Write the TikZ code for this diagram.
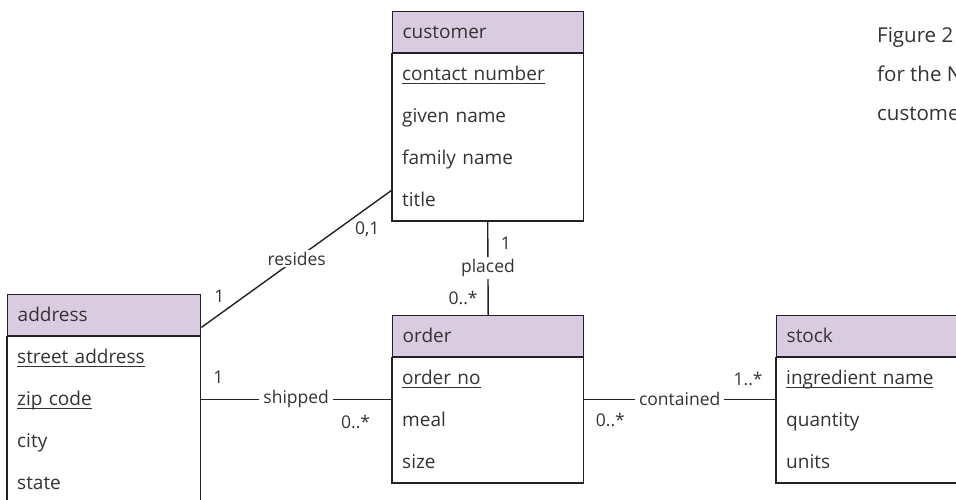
\documentclass[tikz,border=0pt]{standalone}
\usepackage{fontspec}
\setmainfont{Open Sans}
\usetikzlibrary{calc}
\definecolor{hdrfill}{RGB}{217,204,225}
\definecolor{ink}{RGB}{51,51,51}
\definecolor{edge}{RGB}{34,34,34}
% underlined key attribute, rule at a fixed depth
\newcommand\pkey[1]{\setbox0=\hbox{#1}\rlap{\rule[-3.5pt]{\wd0}{1.2pt}}\box0}
\begin{document}
\begin{tikzpicture}[x=1pt,y=-1pt,
  attrfont/.style={font=\fontsize{19}{22}\selectfont},
  relfont/.style={font=\fontsize{17.5}{20}\selectfont},
  rowbox/.style={attrfont, text=ink, minimum width=191pt, minimum height=41.5pt,
    inner xsep=10pt, inner ysep=0pt, text width=171pt, align=left,
    text height=15pt, text depth=2pt, anchor=north west},
  hdr/.style={rowbox, minimum height=41pt, draw=edge, line width=1.4pt, fill=hdrfill},
  bodyline/.style={draw=edge, line width=1.4pt},
  rel/.style={draw=edge, line width=1.4pt},
  lbl/.style={relfont, fill=white, inner xsep=4pt, inner ysep=2pt, text=ink},
  mult/.style={relfont, inner sep=0pt, text=ink},
  note/.style={font=\fontsize{20.5}{24}\selectfont, anchor=base west, inner sep=0pt, text=ink}]
\useasboundingbox (0,0) rectangle (956,500);
\clip (0,0) rectangle (956,500);

% customer
\node[hdr] (cust) at (392,11) {customer};
\node[rowbox] (cust1) at (cust.south west) {\pkey{contact number}};
\node[rowbox] (cust2) at (cust1.south west) {given name};
\node[rowbox] (cust3) at (cust2.south west) {family name};
\node[rowbox] (cust4) at (cust3.south west) {title};
\draw[bodyline] (cust1.north west) rectangle (cust4.south east);

% address
\node[hdr, minimum width=193pt, text width=173pt] (addr) at (7,294) {address};
\node[rowbox, minimum width=193pt, text width=173pt] (addr1) at (addr.south west) {\pkey{street address}};
\node[rowbox, minimum width=193pt, text width=173pt] (addr2) at (addr1.south west) {\pkey{zip code}};
\node[rowbox, minimum width=193pt, text width=173pt] (addr3) at (addr2.south west) {city};
\node[rowbox, minimum width=193pt, text width=173pt] (addr4) at (addr3.south west) {state};
\draw[bodyline] (addr1.north west) rectangle (addr4.south east);

% order
\node[hdr] (ord) at (392,315) {order};
\node[rowbox] (ord1) at (ord.south west) {\pkey{order no}};
\node[rowbox] (ord2) at (ord1.south west) {meal};
\node[rowbox] (ord3) at (ord2.south west) {size};
\draw[bodyline] (ord1.north west) rectangle (ord3.south east);

% stock
\node[hdr] (stk) at (776,315) {stock};
\node[rowbox] (stk1) at (stk.south west) {\pkey{ingredient name}};
\node[rowbox] (stk2) at (stk1.south west) {quantity};
\node[rowbox] (stk3) at (stk2.south west) {units};
\draw[bodyline] (stk1.north west) rectangle (stk3.south east);

% relationships
\draw[rel] ([yshift=9pt]addr.south east) --
  node[lbl, midway] {resides}
  node[mult, pos=0.094, yshift=18pt] {1}
  node[mult, pos=0.87, yshift=-21pt] {0,1}
  ([yshift=10pt]cust4.west);

\draw[rel] (addr2.east) --
  node[lbl, midway] {shipped}
  node[mult, pos=0.094, yshift=22pt] {1}
  node[mult, pos=0.81, yshift=-23pt] {0..*}
  (addr2.east -| ord1.west);

\draw[rel] (cust4.south) --
  node[lbl, midway] {placed}
  node[mult, pos=0.237, xshift=18pt] {1}
  node[mult, pos=0.814, xshift=-25pt] {0..*}
  (ord.north);

\draw[rel] (ord1.south east) --
  node[lbl, midway] {contained}
  node[mult, pos=0.855, yshift=20pt] {1..*}
  node[mult, pos=0.14, yshift=-21pt] {0..*}
  (ord1.south east -| stk.west);

% caption text at the right edge
\node[note] (cap1) at (877,43) {Figure 2};
\node[note] (cap2) at (877,82) {for the N};
\node[note] (cap3) at (877,121) {custome};
\end{tikzpicture}
\end{document}
